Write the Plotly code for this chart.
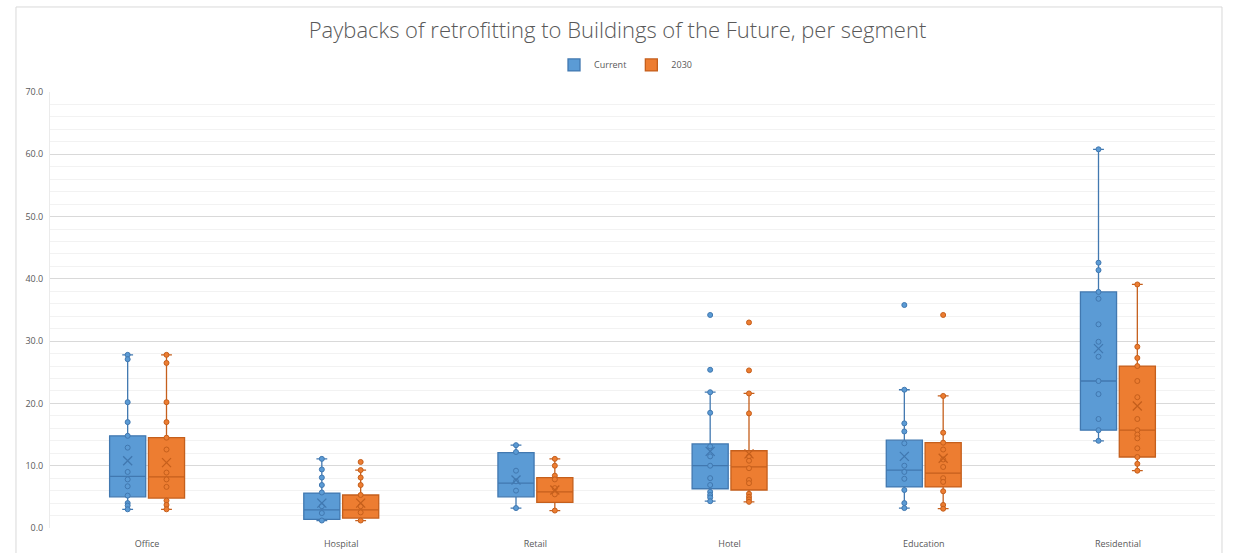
import plotly.graph_objects as go

# ---- data ----
categories = ["Office", "Hospital", "Retail", "Hotel", "Education", "Residential"]

current_q1 = [5.0, 1.4, 5.0, 6.3, 6.6, 15.7]
current_median = [8.3, 2.9, 7.2, 10.0, 9.3, 23.6]
current_q3 = [14.8, 5.6, 12.1, 13.5, 14.1, 37.9]
current_low = [3.0, 1.2, 3.2, 4.3, 3.2, 14.0]
current_high = [27.8, 11.1, 13.3, 21.8, 22.2, 60.8]
current_mean = [10.8, 4.0, 7.7, 12.3, 11.5, 28.8]
current_points = [
    [27.8, 27.1, 20.2, 17.0, 14.8, 12.9, 9.0, 7.8, 6.7, 5.2, 4.0, 3.6, 3.0],
    [11.1, 9.4, 8.1, 6.9, 5.7, 3.5, 2.4, 1.2],
    [13.3, 12.2, 9.2, 7.5, 6.0, 3.2],
    [34.2, 25.4, 21.8, 18.5, 13.1, 11.5, 10.0, 8.0, 6.9, 5.8, 5.3, 4.9, 4.3],
    [35.8, 22.2, 16.8, 15.5, 13.6, 10.0, 9.0, 7.9, 6.1, 4.0, 3.2],
    [60.8, 42.6, 41.4, 37.9, 36.8, 32.7, 29.9, 27.5, 23.6, 21.5, 17.5, 15.7, 14.0],
]

future_q1 = [4.8, 1.6, 4.1, 6.1, 6.6, 11.4]
future_median = [8.2, 2.9, 5.8, 9.8, 8.8, 15.7]
future_q3 = [14.5, 5.3, 8.1, 12.4, 13.7, 26.0]
future_low = [3.0, 1.2, 2.8, 4.2, 3.1, 9.2]
future_high = [27.8, 9.3, 11.1, 21.6, 21.2, 39.1]
future_mean = [10.5, 4.0, 6.1, 11.9, 11.2, 19.6]
future_points = [
    [27.8, 26.5, 20.2, 17.0, 14.5, 12.6, 8.9, 7.8, 6.6, 4.4, 3.7, 3.0],
    [10.6, 9.3, 8.1, 6.9, 5.3, 3.5, 2.5, 1.2],
    [11.1, 10.0, 8.4, 7.8, 6.4, 5.4, 2.8],
    [33.0, 25.3, 21.6, 18.4, 11.5, 10.8, 9.6, 7.7, 7.2, 5.5, 5.0, 4.6, 4.2],
    [34.2, 21.2, 15.3, 13.7, 12.6, 11.0, 9.8, 8.0, 7.4, 5.9, 3.7, 3.1],
    [39.1, 29.1, 27.3, 26.0, 23.6, 21.0, 17.5, 15.7, 15.0, 14.4, 12.8, 11.4, 10.3, 9.2],
]

y_ticks = [0, 10, 20, 30, 40, 50, 60, 70]

BLUE, BLUE_DARK = "#5B9BD5", "#4178B0"
ORANGE, ORANGE_DARK = "#ED7D31", "#C55F1C"
TEXT = "#595959"
FONT = "Open Sans"

series = [
    ("Current", "current", BLUE, BLUE_DARK,
     current_q1, current_median, current_q3, current_low, current_high, current_mean, current_points),
    ("2030", "future", ORANGE, ORANGE_DARK,
     future_q1, future_median, future_q3, future_low, future_high, future_mean, future_points),
]

fig = go.Figure()

for name, group, color, dark, q1, med, q3, low, high, mean, pts in series:
    fig.add_trace(go.Box(
        name=name,
        x=categories,
        q1=q1, median=med, q3=q3,
        lowerfence=low, upperfence=high,
        fillcolor=color,
        line=dict(color=dark, width=1.3),
        whiskerwidth=0.3,
        boxpoints=False,
        offsetgroup=group,
        legendgroup=group,
        hoverinfo="skip",
    ))

for name, group, color, dark, q1, med, q3, low, high, mean, pts in series:
    xs = [cat for cat, vals in zip(categories, pts) for _ in vals]
    ys = [v for vals in pts for v in vals]
    fig.add_trace(go.Scatter(
        x=xs, y=ys,
        mode="markers",
        marker=dict(size=5, color=color, line=dict(color=dark, width=1)),
        offsetgroup=group,
        legendgroup=group,
        showlegend=False,
        hoverinfo="skip",
    ))
    # mean shown as an X, like Excel's box & whisker
    fig.add_trace(go.Scatter(
        x=categories, y=mean,
        mode="markers",
        marker=dict(symbol="x-thin-open", size=9, color=dark, line=dict(color=dark, width=1.3)),
        offsetgroup=group,
        legendgroup=group,
        showlegend=False,
        hoverinfo="skip",
    ))

fig.update_layout(
    width=1235,
    height=553,
    margin=dict(l=50, r=20, t=92, b=25),
    paper_bgcolor="white",
    plot_bgcolor="white",
    boxmode="group",
    boxgap=0.6,
    boxgroupgap=0.07,
    scattermode="group",
    scattergap=0.6,
    font=dict(family=FONT, color=TEXT, size=9),
    title=dict(
        text="Paybacks of retrofitting to Buildings of the Future, per segment",
        font=dict(family=FONT, size=22, color=TEXT, weight=300),
        x=0.5, xanchor="center",
        y=1 - 30 / 553, yanchor="middle", yref="container",
    ),
    legend=dict(
        orientation="h",
        x=0.494, xanchor="center",
        y=1.062, yanchor="middle",
        font=dict(size=9, color=TEXT),
        itemwidth=30,
    ),
    shapes=[dict(
        type="rect", xref="paper", yref="paper",
        x0=-0.0292, x1=1.006, y0=-0.08, y1=1.195,
        line=dict(color="#D9D9D9", width=1),
        layer="below",
    )],
)

fig.update_yaxes(
    range=[0, 70],
    tickvals=y_ticks,
    tickformat=".1f",
    showgrid=True,
    gridcolor="#D9D9D9",
    gridwidth=1,
    minor=dict(dtick=2, showgrid=True, gridcolor="#F2F2F2", gridwidth=1),
    zeroline=False,
    showline=True,
    linecolor="#EBEBEB",
    ticklabelstandoff=4,
    tickfont=dict(size=9, color=TEXT),
    automargin=False,
)
fig.update_xaxes(
    showgrid=False,
    showline=False,
    ticklabelstandoff=9,
    tickfont=dict(size=9, color=TEXT),
    automargin=False,
)

fig.write_html(
    "out.html",
    config={"displayModeBar": False},
    post_script="document.body.style.margin='0';document.body.style.overflow='hidden';",
)
